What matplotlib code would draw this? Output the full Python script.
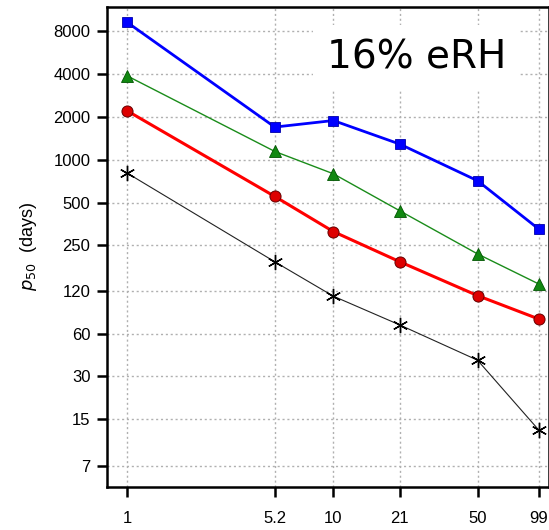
import numpy as np
import matplotlib.pyplot as plt

plt.rcParams['font.family'] = ['Liberation Sans', 'DejaVu Sans']

# particle size (x) and median survival time p50 in days
sizes = [1, 5.2, 10, 21, 50, 99]
blue = [9280, 1700, 1890, 1290, 713, 326]
green = [3900, 1146, 798, 438, 218, 134]
red = [2214, 553, 313, 192, 111, 76]
black = [808, 192, 110, 69, 39, 12.6]

yticks = [7, 15, 30, 60, 120, 250, 500, 1000, 2000, 4000, 8000]

fig = plt.figure(figsize=(5.49, 5.30), dpi=100)
ax = fig.add_axes([0.195, 0.081, 0.805, 0.906])

ax.plot(sizes, blue, color='#0000ff', lw=2.0, marker='s', ms=7,
        mfc='#0000ff', mec='#0000aa', mew=0.6, zorder=5)
ax.plot(sizes, green, color='#1a8c1a', lw=1.0, marker='^', ms=8,
        mfc='#118811', mec='#005500', mew=0.6, zorder=4)
ax.plot(sizes, red, color='#ff0000', lw=2.2, marker='o', ms=8,
        mfc='#dd0000', mec='#660000', mew=0.7, zorder=4)
ax.plot(sizes, black, color='#222222', lw=0.8, marker=(6, 2, 0), ms=11,
        mec='black', mew=1.0, zorder=3)

ax.set_xscale('log')
ax.set_yscale('log')
ax.set_xlim(0.80, 111)
ax.set_ylim(5.0, 11900)
ax.set_xticks(sizes)
ax.set_xticklabels(['1', '5.2', '10', '21', '50', '99'])
ax.set_yticks(yticks)
ax.set_yticklabels([str(t) for t in yticks])
ax.minorticks_off()

ax.grid(True, which='major', color='#b0b0b0', linestyle=(0, (1.5, 2)), lw=1.0)
ax.tick_params(axis='both', direction='out', length=7, width=1.8,
               labelsize=12, pad=5, colors='black')
ax.tick_params(axis='x', pad=10)
for side in ['left', 'bottom', 'top', 'right']:
    ax.spines[side].set_linewidth(1.8)

ax.set_ylabel(r'$p_{50}$  (days)', fontsize=13, labelpad=10)

ax.text(0.70, 0.894, '16% eRH', transform=ax.transAxes, fontsize=28,
        ha='center', va='center', family='DejaVu Sans',
        bbox=dict(facecolor='white', edgecolor='none', pad=10))

fig.savefig('out.png', dpi=100)
